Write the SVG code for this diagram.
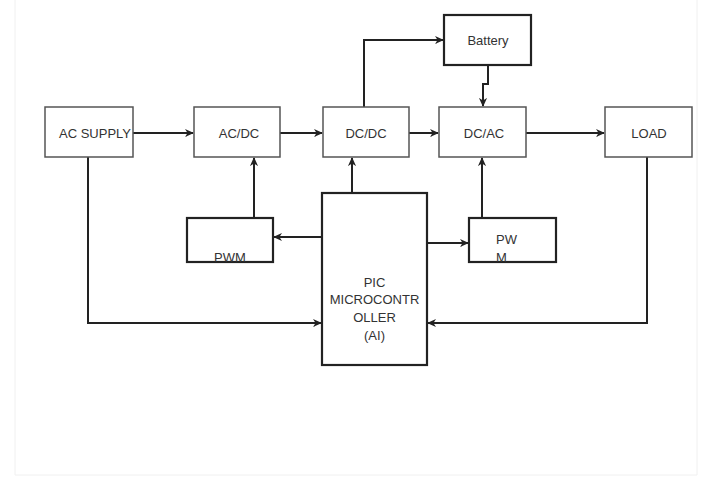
<svg xmlns="http://www.w3.org/2000/svg" width="701" height="483" viewBox="0 0 701 483">
<defs>
<style>
.box{fill:#fff;stroke:#555;stroke-width:1.5}
.tbox{fill:#fff;stroke:#222;stroke-width:2.2}
.t{font-family:"Liberation Sans",Arial,sans-serif;font-size:13px;fill:#333;text-anchor:middle}
.ts{font-family:"Liberation Sans",Arial,sans-serif;font-size:13px;fill:#333}
.c{fill:none;stroke:#222;stroke-width:2}
</style>
<marker id="ah" viewBox="0 0 10 10" refX="9" refY="5" markerWidth="9" markerHeight="9" orient="auto" markerUnits="userSpaceOnUse">
<path d="M0,0.5 L10,5 L0,9.5 L3,5 Z" fill="#222"/>
</marker>
</defs>
<rect x="0" y="0" width="701" height="483" fill="#fff"/>
<path d="M15,0 V475 H697 V0" fill="none" stroke="#f0f0f0" stroke-width="1"/>
<g id="connectors">
<path class="c" d="M133,133 H193" marker-end="url(#ah)"/>
<path class="c" d="M280,133 H322" marker-end="url(#ah)"/>
<path class="c" d="M409,133 H438" marker-end="url(#ah)"/>
<path class="c" d="M526,133 H604" marker-end="url(#ah)"/>
<path class="c" d="M364,107 V40 H443" marker-end="url(#ah)"/>
<path class="c" d="M488,65 V84 H483 V106" marker-end="url(#ah)"/>
<path class="c" d="M254,218 V158" marker-end="url(#ah)"/>
<path class="c" d="M482,218 V158" marker-end="url(#ah)"/>
<path class="c" d="M352,193 V158" marker-end="url(#ah)"/>
<path class="c" d="M322,237 H274" marker-end="url(#ah)"/>
<path class="c" d="M427,243 H468" marker-end="url(#ah)"/>
<path class="c" d="M88,157 V323 H321" marker-end="url(#ah)"/>
<path class="c" d="M647,157 V323 H428" marker-end="url(#ah)"/>
</g>
<g id="ac_supply">
<rect class="box" x="45" y="107" width="88" height="50"/>
<text class="ts" x="59" y="138">AC SUPPLY</text>
</g>
<g id="ac_dc">
<rect class="box" x="194" y="107" width="86" height="50"/>
<text class="t" x="239" y="138">AC/DC</text>
</g>
<g id="dc_dc">
<rect class="box" x="323" y="107" width="86" height="50"/>
<text class="t" x="366" y="138">DC/DC</text>
</g>
<g id="battery">
<rect class="tbox" x="444" y="15" width="87" height="50"/>
<text class="t" x="488" y="45">Battery</text>
</g>
<g id="dc_ac">
<rect class="box" x="439" y="107" width="87" height="50"/>
<text class="t" x="484" y="138">DC/AC</text>
</g>
<g id="load">
<rect class="box" x="605" y="107" width="87" height="50"/>
<text class="t" x="649" y="138">LOAD</text>
</g>
<g id="pwm_left">
<rect class="tbox" x="187" y="218" width="86" height="44"/>
<text class="t" x="230" y="262">PWM</text>
</g>
<g id="pwm_right">
<rect class="tbox" x="469" y="218" width="87" height="44"/>
<text class="ts" x="496" y="244">PW</text>
<text class="ts" x="496" y="262">M</text>
</g>
<g id="microcontroller">
<rect class="tbox" x="322" y="193" width="105" height="172"/>
<text class="t" x="374.5" y="287">PIC</text>
<text class="t" x="374.5" y="304">MICROCONTR</text>
<text class="t" x="374.5" y="322">OLLER</text>
<text class="t" x="374.5" y="340">(AI)</text>
</g>
</svg>
